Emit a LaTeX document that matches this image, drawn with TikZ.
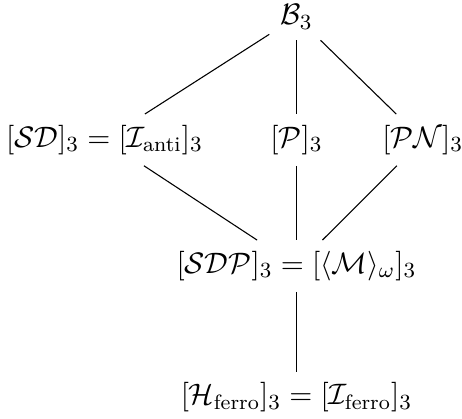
\documentclass[tikz,border=0pt]{standalone}
\usepackage{amsmath,amssymb}
\usepackage{tikz}
\tikzset{classe/.style={inner sep=3.9pt, font=\fontsize{11}{13}\selectfont}}

\begin{document}
\begin{tikzpicture}
  \useasboundingbox (0,0) rectangle (6.01,5.44);
  % Sommet
  \node[classe] (b3) at (3.857,5.22) {$\mathcal{B}_3$};
  % Niveau intermediaire
  \node[classe] (sd) at (1.36,3.62) {$[\mathcal{SD}]_3=[\mathcal{I}_{\text{anti}}]_3$};
  \node[classe] (p) at (3.857,3.62) {$[\mathcal{P}]_3$};
  \node[classe] (pn) at (5.50,3.62) {$[\mathcal{PN}]_3$};
  % Niveaux inferieurs
  \node[classe] (sdp) at (3.857,1.98) {$[\mathcal{SDP}]_3=[\langle\mathcal{M}\rangle_\omega]_3$};
  \node[classe] (hf) at (3.857,0.27) {$[\mathcal{H}_{\text{ferro}}]_3=[\mathcal{I}_{\text{ferro}}]_3$};
  % Aretes
  \draw (b3) -- (sd);
  \draw (b3) -- (p);
  \draw (b3) -- (pn);
  \draw (sd) -- (sdp);
  \draw (p) -- (sdp);
  \draw (pn) -- (sdp);
  \draw (sdp) -- (hf);
\end{tikzpicture}
\end{document}
